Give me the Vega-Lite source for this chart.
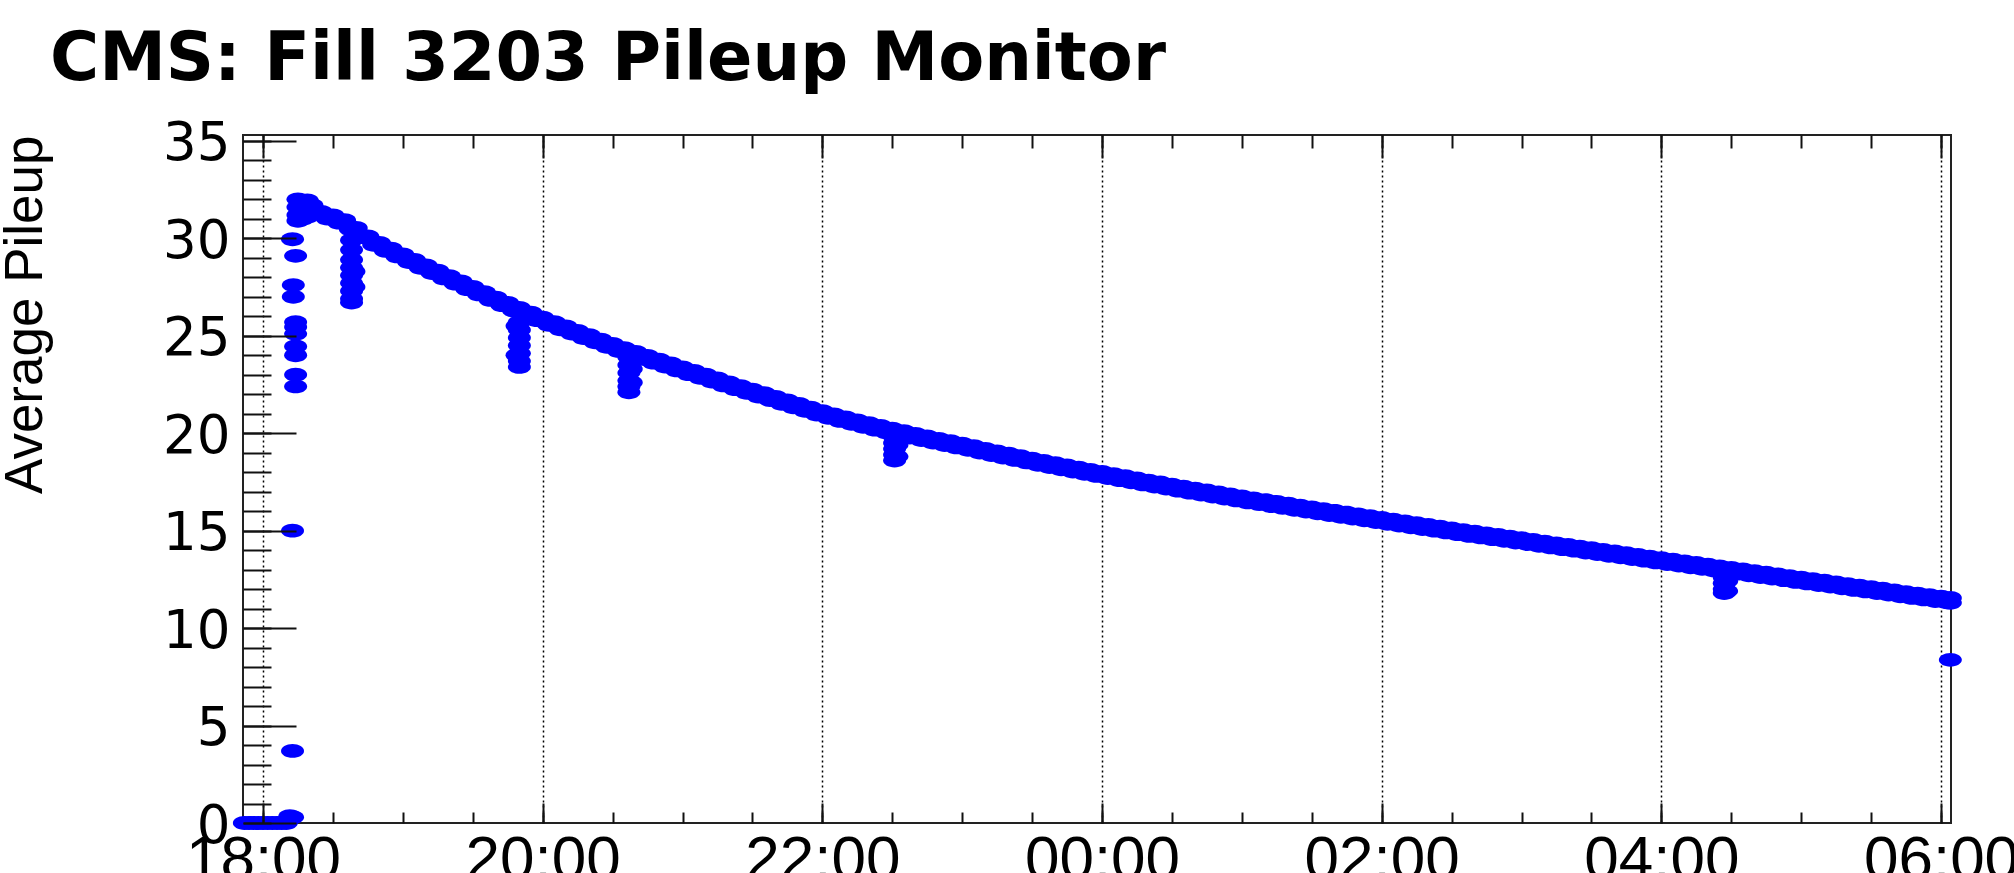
{
  "$schema": "https://vega.github.io/schema/vega-lite/v6.json",
  "width": 1708,
  "height": 688,
  "autosize": {"type": "none"},
  "padding": {"left": 243, "top": 135, "right": 63, "bottom": 50},
  "background": "white",
  "title": {
    "text": "CMS: Fill 3203 Pileup Monitor",
    "anchor": "start",
    "frame": "group",
    "font": "DejaVu Sans",
    "fontWeight": "bold",
    "fontSize": 67,
    "color": "black",
    "baseline": "alphabetic",
    "offset": 0,
    "dx": -193,
    "dy": 29
  },
  "config": {
    "view": {"stroke": "#222", "strokeWidth": 2},
    "axis": {"domain": false, "labelOverlap": false, "labelFlush": false, "labelBound": false}
  },
  "data": {
    "values": [
      {"time": "2012-10-24 17:52", "pileup": 0},
      {"time": "2012-10-24 17:54", "pileup": 0},
      {"time": "2012-10-24 17:56", "pileup": 0},
      {"time": "2012-10-24 17:58", "pileup": 0},
      {"time": "2012-10-24 18:00", "pileup": 0},
      {"time": "2012-10-24 18:02", "pileup": 0},
      {"time": "2012-10-24 18:04", "pileup": 0},
      {"time": "2012-10-24 18:06", "pileup": 0},
      {"time": "2012-10-24 18:08", "pileup": 0},
      {"time": "2012-10-24 18:10", "pileup": 0},
      {"time": "2012-10-24 18:11:30", "pileup": 0.35},
      {"time": "2012-10-24 18:12:40", "pileup": 0.3},
      {"time": "2012-10-24 18:12:40", "pileup": 3.7},
      {"time": "2012-10-24 18:12:40", "pileup": 15.0},
      {"time": "2012-10-24 18:14", "pileup": 22.4},
      {"time": "2012-10-24 18:14", "pileup": 23.0},
      {"time": "2012-10-24 18:14", "pileup": 24.0},
      {"time": "2012-10-24 18:14", "pileup": 24.45},
      {"time": "2012-10-24 18:14", "pileup": 25.1},
      {"time": "2012-10-24 18:14", "pileup": 25.45},
      {"time": "2012-10-24 18:14", "pileup": 25.7},
      {"time": "2012-10-24 18:13", "pileup": 27.0},
      {"time": "2012-10-24 18:13", "pileup": 27.6},
      {"time": "2012-10-24 18:14", "pileup": 29.1},
      {"time": "2012-10-24 18:12:40", "pileup": 29.95},
      {"time": "2012-10-24 18:15", "pileup": 32.0},
      {"time": "2012-10-24 18:15", "pileup": 31.6},
      {"time": "2012-10-24 18:15", "pileup": 31.2},
      {"time": "2012-10-24 18:15", "pileup": 30.9},
      {"time": "2012-10-24 18:17", "pileup": 31.9},
      {"time": "2012-10-24 18:17", "pileup": 31.4},
      {"time": "2012-10-24 18:17", "pileup": 31.0},
      {"time": "2012-10-24 18:19", "pileup": 31.95},
      {"time": "2012-10-24 18:19", "pileup": 31.5},
      {"time": "2012-10-24 18:19", "pileup": 31.1},
      {"time": "2012-10-24 18:21", "pileup": 31.7},
      {"time": "2012-10-24 18:21", "pileup": 31.3},
      {"time": "2012-10-24 18:38", "pileup": 29.9},
      {"time": "2012-10-24 18:38", "pileup": 29.4},
      {"time": "2012-10-24 18:38", "pileup": 28.9},
      {"time": "2012-10-24 18:38", "pileup": 28.5},
      {"time": "2012-10-24 18:38", "pileup": 28.1},
      {"time": "2012-10-24 18:38", "pileup": 27.7},
      {"time": "2012-10-24 18:38", "pileup": 27.3},
      {"time": "2012-10-24 18:38", "pileup": 26.9},
      {"time": "2012-10-24 18:38", "pileup": 26.7},
      {"time": "2012-10-24 18:39", "pileup": 28.3},
      {"time": "2012-10-24 18:39", "pileup": 27.5},
      {"time": "2012-10-24 19:49", "pileup": 25.5},
      {"time": "2012-10-24 19:49", "pileup": 24.0},
      {"time": "2012-10-24 19:50", "pileup": 25.7},
      {"time": "2012-10-24 19:50", "pileup": 25.3},
      {"time": "2012-10-24 19:50", "pileup": 24.9},
      {"time": "2012-10-24 19:50", "pileup": 24.5},
      {"time": "2012-10-24 19:50", "pileup": 24.1},
      {"time": "2012-10-24 19:50", "pileup": 23.7},
      {"time": "2012-10-24 19:50", "pileup": 23.4},
      {"time": "2012-10-24 20:37", "pileup": 23.9},
      {"time": "2012-10-24 20:37", "pileup": 23.5},
      {"time": "2012-10-24 20:37", "pileup": 23.1},
      {"time": "2012-10-24 20:37", "pileup": 22.7},
      {"time": "2012-10-24 20:37", "pileup": 22.4},
      {"time": "2012-10-24 20:37", "pileup": 22.1},
      {"time": "2012-10-24 20:38", "pileup": 23.3},
      {"time": "2012-10-24 20:38", "pileup": 22.6},
      {"time": "2012-10-24 22:31", "pileup": 19.8},
      {"time": "2012-10-24 22:31", "pileup": 19.5},
      {"time": "2012-10-24 22:31", "pileup": 19.2},
      {"time": "2012-10-24 22:31", "pileup": 18.9},
      {"time": "2012-10-24 22:31", "pileup": 18.6},
      {"time": "2012-10-24 22:32", "pileup": 19.4},
      {"time": "2012-10-24 22:32", "pileup": 18.8},
      {"time": "2012-10-25 04:27", "pileup": 12.6},
      {"time": "2012-10-25 04:27", "pileup": 12.3},
      {"time": "2012-10-25 04:27", "pileup": 12.0},
      {"time": "2012-10-25 04:27", "pileup": 11.8},
      {"time": "2012-10-25 04:28", "pileup": 12.4},
      {"time": "2012-10-25 04:28", "pileup": 11.9},
      {"time": "2012-10-25 06:04", "pileup": 11.55},
      {"time": "2012-10-25 06:04", "pileup": 11.3},
      {"time": "2012-10-25 06:04", "pileup": 8.37},
      {"time": "2012-10-24 18:25", "pileup": 31.36},
      {"time": "2012-10-24 18:27:30", "pileup": 31.01},
      {"time": "2012-10-24 18:30", "pileup": 31.18},
      {"time": "2012-10-24 18:32:30", "pileup": 30.8},
      {"time": "2012-10-24 18:35", "pileup": 30.93},
      {"time": "2012-10-24 18:37:30", "pileup": 30.47},
      {"time": "2012-10-24 18:40", "pileup": 30.53},
      {"time": "2012-10-24 18:42:30", "pileup": 30.06},
      {"time": "2012-10-24 18:45", "pileup": 30.1},
      {"time": "2012-10-24 18:47:30", "pileup": 29.67},
      {"time": "2012-10-24 18:50", "pileup": 29.76},
      {"time": "2012-10-24 18:52:30", "pileup": 29.36},
      {"time": "2012-10-24 18:55", "pileup": 29.47},
      {"time": "2012-10-24 18:57:30", "pileup": 29.07},
      {"time": "2012-10-24 19:00", "pileup": 29.18},
      {"time": "2012-10-24 19:02:30", "pileup": 28.78},
      {"time": "2012-10-24 19:05", "pileup": 28.89},
      {"time": "2012-10-24 19:07:30", "pileup": 28.49},
      {"time": "2012-10-24 19:10", "pileup": 28.61},
      {"time": "2012-10-24 19:12:30", "pileup": 28.22},
      {"time": "2012-10-24 19:15", "pileup": 28.34},
      {"time": "2012-10-24 19:17:30", "pileup": 27.94},
      {"time": "2012-10-24 19:20", "pileup": 28.06},
      {"time": "2012-10-24 19:22:30", "pileup": 27.67},
      {"time": "2012-10-24 19:25", "pileup": 27.79},
      {"time": "2012-10-24 19:27:30", "pileup": 27.39},
      {"time": "2012-10-24 19:30", "pileup": 27.51},
      {"time": "2012-10-24 19:32:30", "pileup": 27.12},
      {"time": "2012-10-24 19:35", "pileup": 27.24},
      {"time": "2012-10-24 19:37:30", "pileup": 26.84},
      {"time": "2012-10-24 19:40", "pileup": 26.96},
      {"time": "2012-10-24 19:42:30", "pileup": 26.57},
      {"time": "2012-10-24 19:45", "pileup": 26.69},
      {"time": "2012-10-24 19:47:30", "pileup": 26.3},
      {"time": "2012-10-24 19:50", "pileup": 26.43},
      {"time": "2012-10-24 19:52:30", "pileup": 26.05},
      {"time": "2012-10-24 19:55", "pileup": 26.18},
      {"time": "2012-10-24 19:57:30", "pileup": 25.8},
      {"time": "2012-10-24 20:00", "pileup": 25.93},
      {"time": "2012-10-24 20:02:30", "pileup": 25.56},
      {"time": "2012-10-24 20:05", "pileup": 25.7},
      {"time": "2012-10-24 20:07:30", "pileup": 25.33},
      {"time": "2012-10-24 20:10", "pileup": 25.48},
      {"time": "2012-10-24 20:12:30", "pileup": 25.11},
      {"time": "2012-10-24 20:15", "pileup": 25.25},
      {"time": "2012-10-24 20:17:30", "pileup": 24.88},
      {"time": "2012-10-24 20:20", "pileup": 25.03},
      {"time": "2012-10-24 20:22:30", "pileup": 24.66},
      {"time": "2012-10-24 20:25", "pileup": 24.8},
      {"time": "2012-10-24 20:27:30", "pileup": 24.43},
      {"time": "2012-10-24 20:30", "pileup": 24.58},
      {"time": "2012-10-24 20:32:30", "pileup": 24.22},
      {"time": "2012-10-24 20:35", "pileup": 24.37},
      {"time": "2012-10-24 20:37:30", "pileup": 24.01},
      {"time": "2012-10-24 20:40", "pileup": 24.17},
      {"time": "2012-10-24 20:42:30", "pileup": 23.81},
      {"time": "2012-10-24 20:45", "pileup": 23.97},
      {"time": "2012-10-24 20:47:30", "pileup": 23.62},
      {"time": "2012-10-24 20:50", "pileup": 23.78},
      {"time": "2012-10-24 20:52:30", "pileup": 23.42},
      {"time": "2012-10-24 20:55", "pileup": 23.58},
      {"time": "2012-10-24 20:57:30", "pileup": 23.22},
      {"time": "2012-10-24 21:00", "pileup": 23.38},
      {"time": "2012-10-24 21:02:30", "pileup": 23.03},
      {"time": "2012-10-24 21:05", "pileup": 23.19},
      {"time": "2012-10-24 21:07:30", "pileup": 22.84},
      {"time": "2012-10-24 21:10", "pileup": 23.0},
      {"time": "2012-10-24 21:12:30", "pileup": 22.65},
      {"time": "2012-10-24 21:15", "pileup": 22.81},
      {"time": "2012-10-24 21:17:30", "pileup": 22.45},
      {"time": "2012-10-24 21:20", "pileup": 22.61},
      {"time": "2012-10-24 21:22:30", "pileup": 22.26},
      {"time": "2012-10-24 21:25", "pileup": 22.42},
      {"time": "2012-10-24 21:27:30", "pileup": 22.07},
      {"time": "2012-10-24 21:30", "pileup": 22.23},
      {"time": "2012-10-24 21:32:30", "pileup": 21.88},
      {"time": "2012-10-24 21:35", "pileup": 22.05},
      {"time": "2012-10-24 21:37:30", "pileup": 21.7},
      {"time": "2012-10-24 21:40", "pileup": 21.86},
      {"time": "2012-10-24 21:42:30", "pileup": 21.51},
      {"time": "2012-10-24 21:45", "pileup": 21.68},
      {"time": "2012-10-24 21:47:30", "pileup": 21.33},
      {"time": "2012-10-24 21:50", "pileup": 21.5},
      {"time": "2012-10-24 21:52:30", "pileup": 21.15},
      {"time": "2012-10-24 21:55", "pileup": 21.31},
      {"time": "2012-10-24 21:57:30", "pileup": 20.96},
      {"time": "2012-10-24 22:00", "pileup": 21.13},
      {"time": "2012-10-24 22:02:30", "pileup": 20.79},
      {"time": "2012-10-24 22:05", "pileup": 20.97},
      {"time": "2012-10-24 22:07:30", "pileup": 20.63},
      {"time": "2012-10-24 22:10", "pileup": 20.81},
      {"time": "2012-10-24 22:12:30", "pileup": 20.48},
      {"time": "2012-10-24 22:15", "pileup": 20.66},
      {"time": "2012-10-24 22:17:30", "pileup": 20.33},
      {"time": "2012-10-24 22:20", "pileup": 20.51},
      {"time": "2012-10-24 22:22:30", "pileup": 20.18},
      {"time": "2012-10-24 22:25", "pileup": 20.37},
      {"time": "2012-10-24 22:27:30", "pileup": 20.04},
      {"time": "2012-10-24 22:30", "pileup": 20.23},
      {"time": "2012-10-24 22:32:30", "pileup": 19.91},
      {"time": "2012-10-24 22:35", "pileup": 20.1},
      {"time": "2012-10-24 22:37:30", "pileup": 19.78},
      {"time": "2012-10-24 22:40", "pileup": 19.97},
      {"time": "2012-10-24 22:42:30", "pileup": 19.65},
      {"time": "2012-10-24 22:45", "pileup": 19.84},
      {"time": "2012-10-24 22:47:30", "pileup": 19.52},
      {"time": "2012-10-24 22:50", "pileup": 19.71},
      {"time": "2012-10-24 22:52:30", "pileup": 19.39},
      {"time": "2012-10-24 22:55", "pileup": 19.59},
      {"time": "2012-10-24 22:57:30", "pileup": 19.27},
      {"time": "2012-10-24 23:00", "pileup": 19.47},
      {"time": "2012-10-24 23:02:30", "pileup": 19.15},
      {"time": "2012-10-24 23:05", "pileup": 19.34},
      {"time": "2012-10-24 23:07:30", "pileup": 19.01},
      {"time": "2012-10-24 23:10", "pileup": 19.2},
      {"time": "2012-10-24 23:12:30", "pileup": 18.88},
      {"time": "2012-10-24 23:15", "pileup": 19.07},
      {"time": "2012-10-24 23:17:30", "pileup": 18.75},
      {"time": "2012-10-24 23:20", "pileup": 18.95},
      {"time": "2012-10-24 23:22:30", "pileup": 18.63},
      {"time": "2012-10-24 23:25", "pileup": 18.82},
      {"time": "2012-10-24 23:27:30", "pileup": 18.5},
      {"time": "2012-10-24 23:30", "pileup": 18.7},
      {"time": "2012-10-24 23:32:30", "pileup": 18.38},
      {"time": "2012-10-24 23:35", "pileup": 18.58},
      {"time": "2012-10-24 23:37:30", "pileup": 18.26},
      {"time": "2012-10-24 23:40", "pileup": 18.46},
      {"time": "2012-10-24 23:42:30", "pileup": 18.15},
      {"time": "2012-10-24 23:45", "pileup": 18.35},
      {"time": "2012-10-24 23:47:30", "pileup": 18.03},
      {"time": "2012-10-24 23:50", "pileup": 18.23},
      {"time": "2012-10-24 23:52:30", "pileup": 17.92},
      {"time": "2012-10-24 23:55", "pileup": 18.12},
      {"time": "2012-10-24 23:57:30", "pileup": 17.81},
      {"time": "2012-10-25 00:00", "pileup": 18.01},
      {"time": "2012-10-25 00:02:30", "pileup": 17.7},
      {"time": "2012-10-25 00:05", "pileup": 17.9},
      {"time": "2012-10-25 00:07:30", "pileup": 17.59},
      {"time": "2012-10-25 00:10", "pileup": 17.79},
      {"time": "2012-10-25 00:12:30", "pileup": 17.48},
      {"time": "2012-10-25 00:15", "pileup": 17.68},
      {"time": "2012-10-25 00:17:30", "pileup": 17.37},
      {"time": "2012-10-25 00:20", "pileup": 17.57},
      {"time": "2012-10-25 00:22:30", "pileup": 17.26},
      {"time": "2012-10-25 00:25", "pileup": 17.47},
      {"time": "2012-10-25 00:27:30", "pileup": 17.16},
      {"time": "2012-10-25 00:30", "pileup": 17.36},
      {"time": "2012-10-25 00:32:30", "pileup": 17.05},
      {"time": "2012-10-25 00:35", "pileup": 17.26},
      {"time": "2012-10-25 00:37:30", "pileup": 16.95},
      {"time": "2012-10-25 00:40", "pileup": 17.16},
      {"time": "2012-10-25 00:42:30", "pileup": 16.85},
      {"time": "2012-10-25 00:45", "pileup": 17.06},
      {"time": "2012-10-25 00:47:30", "pileup": 16.75},
      {"time": "2012-10-25 00:50", "pileup": 16.96},
      {"time": "2012-10-25 00:52:30", "pileup": 16.65},
      {"time": "2012-10-25 00:55", "pileup": 16.86},
      {"time": "2012-10-25 00:57:30", "pileup": 16.55},
      {"time": "2012-10-25 01:00", "pileup": 16.76},
      {"time": "2012-10-25 01:02:30", "pileup": 16.45},
      {"time": "2012-10-25 01:05", "pileup": 16.66},
      {"time": "2012-10-25 01:07:30", "pileup": 16.36},
      {"time": "2012-10-25 01:10", "pileup": 16.57},
      {"time": "2012-10-25 01:12:30", "pileup": 16.26},
      {"time": "2012-10-25 01:15", "pileup": 16.47},
      {"time": "2012-10-25 01:17:30", "pileup": 16.17},
      {"time": "2012-10-25 01:20", "pileup": 16.38},
      {"time": "2012-10-25 01:22:30", "pileup": 16.07},
      {"time": "2012-10-25 01:25", "pileup": 16.28},
      {"time": "2012-10-25 01:27:30", "pileup": 15.98},
      {"time": "2012-10-25 01:30", "pileup": 16.19},
      {"time": "2012-10-25 01:32:30", "pileup": 15.89},
      {"time": "2012-10-25 01:35", "pileup": 16.1},
      {"time": "2012-10-25 01:37:30", "pileup": 15.8},
      {"time": "2012-10-25 01:40", "pileup": 16.01},
      {"time": "2012-10-25 01:42:30", "pileup": 15.71},
      {"time": "2012-10-25 01:45", "pileup": 15.92},
      {"time": "2012-10-25 01:47:30", "pileup": 15.62},
      {"time": "2012-10-25 01:50", "pileup": 15.83},
      {"time": "2012-10-25 01:52:30", "pileup": 15.53},
      {"time": "2012-10-25 01:55", "pileup": 15.74},
      {"time": "2012-10-25 01:57:30", "pileup": 15.44},
      {"time": "2012-10-25 02:00", "pileup": 15.65},
      {"time": "2012-10-25 02:02:30", "pileup": 15.35},
      {"time": "2012-10-25 02:05", "pileup": 15.56},
      {"time": "2012-10-25 02:07:30", "pileup": 15.26},
      {"time": "2012-10-25 02:10", "pileup": 15.47},
      {"time": "2012-10-25 02:12:30", "pileup": 15.17},
      {"time": "2012-10-25 02:15", "pileup": 15.38},
      {"time": "2012-10-25 02:17:30", "pileup": 15.08},
      {"time": "2012-10-25 02:20", "pileup": 15.3},
      {"time": "2012-10-25 02:22:30", "pileup": 15.0},
      {"time": "2012-10-25 02:25", "pileup": 15.21},
      {"time": "2012-10-25 02:27:30", "pileup": 14.91},
      {"time": "2012-10-25 02:30", "pileup": 15.12},
      {"time": "2012-10-25 02:32:30", "pileup": 14.82},
      {"time": "2012-10-25 02:35", "pileup": 15.03},
      {"time": "2012-10-25 02:37:30", "pileup": 14.73},
      {"time": "2012-10-25 02:40", "pileup": 14.95},
      {"time": "2012-10-25 02:42:30", "pileup": 14.65},
      {"time": "2012-10-25 02:45", "pileup": 14.86},
      {"time": "2012-10-25 02:47:30", "pileup": 14.56},
      {"time": "2012-10-25 02:50", "pileup": 14.78},
      {"time": "2012-10-25 02:52:30", "pileup": 14.48},
      {"time": "2012-10-25 02:55", "pileup": 14.69},
      {"time": "2012-10-25 02:57:30", "pileup": 14.39},
      {"time": "2012-10-25 03:00", "pileup": 14.61},
      {"time": "2012-10-25 03:02:30", "pileup": 14.31},
      {"time": "2012-10-25 03:05", "pileup": 14.52},
      {"time": "2012-10-25 03:07:30", "pileup": 14.22},
      {"time": "2012-10-25 03:10", "pileup": 14.44},
      {"time": "2012-10-25 03:12:30", "pileup": 14.14},
      {"time": "2012-10-25 03:15", "pileup": 14.35},
      {"time": "2012-10-25 03:17:30", "pileup": 14.05},
      {"time": "2012-10-25 03:20", "pileup": 14.27},
      {"time": "2012-10-25 03:22:30", "pileup": 13.97},
      {"time": "2012-10-25 03:25", "pileup": 14.18},
      {"time": "2012-10-25 03:27:30", "pileup": 13.88},
      {"time": "2012-10-25 03:30", "pileup": 14.1},
      {"time": "2012-10-25 03:32:30", "pileup": 13.8},
      {"time": "2012-10-25 03:35", "pileup": 14.01},
      {"time": "2012-10-25 03:37:30", "pileup": 13.71},
      {"time": "2012-10-25 03:40", "pileup": 13.93},
      {"time": "2012-10-25 03:42:30", "pileup": 13.63},
      {"time": "2012-10-25 03:45", "pileup": 13.84},
      {"time": "2012-10-25 03:47:30", "pileup": 13.54},
      {"time": "2012-10-25 03:50", "pileup": 13.76},
      {"time": "2012-10-25 03:52:30", "pileup": 13.46},
      {"time": "2012-10-25 03:55", "pileup": 13.67},
      {"time": "2012-10-25 03:57:30", "pileup": 13.37},
      {"time": "2012-10-25 04:00", "pileup": 13.59},
      {"time": "2012-10-25 04:02:30", "pileup": 13.29},
      {"time": "2012-10-25 04:05", "pileup": 13.51},
      {"time": "2012-10-25 04:07:30", "pileup": 13.21},
      {"time": "2012-10-25 04:10", "pileup": 13.42},
      {"time": "2012-10-25 04:12:30", "pileup": 13.12},
      {"time": "2012-10-25 04:15", "pileup": 13.34},
      {"time": "2012-10-25 04:17:30", "pileup": 13.04},
      {"time": "2012-10-25 04:20", "pileup": 13.26},
      {"time": "2012-10-25 04:22:30", "pileup": 12.96},
      {"time": "2012-10-25 04:25", "pileup": 13.17},
      {"time": "2012-10-25 04:27:30", "pileup": 12.87},
      {"time": "2012-10-25 04:30", "pileup": 13.09},
      {"time": "2012-10-25 04:32:30", "pileup": 12.79},
      {"time": "2012-10-25 04:35", "pileup": 13.01},
      {"time": "2012-10-25 04:37:30", "pileup": 12.71},
      {"time": "2012-10-25 04:40", "pileup": 12.92},
      {"time": "2012-10-25 04:42:30", "pileup": 12.62},
      {"time": "2012-10-25 04:45", "pileup": 12.84},
      {"time": "2012-10-25 04:47:30", "pileup": 12.54},
      {"time": "2012-10-25 04:50", "pileup": 12.76},
      {"time": "2012-10-25 04:52:30", "pileup": 12.46},
      {"time": "2012-10-25 04:55", "pileup": 12.67},
      {"time": "2012-10-25 04:57:30", "pileup": 12.37},
      {"time": "2012-10-25 05:00", "pileup": 12.59},
      {"time": "2012-10-25 05:02:30", "pileup": 12.29},
      {"time": "2012-10-25 05:05", "pileup": 12.51},
      {"time": "2012-10-25 05:07:30", "pileup": 12.21},
      {"time": "2012-10-25 05:10", "pileup": 12.43},
      {"time": "2012-10-25 05:12:30", "pileup": 12.13},
      {"time": "2012-10-25 05:15", "pileup": 12.34},
      {"time": "2012-10-25 05:17:30", "pileup": 12.04},
      {"time": "2012-10-25 05:20", "pileup": 12.26},
      {"time": "2012-10-25 05:22:30", "pileup": 11.96},
      {"time": "2012-10-25 05:25", "pileup": 12.18},
      {"time": "2012-10-25 05:27:30", "pileup": 11.88},
      {"time": "2012-10-25 05:30", "pileup": 12.1},
      {"time": "2012-10-25 05:32:30", "pileup": 11.8},
      {"time": "2012-10-25 05:35", "pileup": 12.02},
      {"time": "2012-10-25 05:37:30", "pileup": 11.72},
      {"time": "2012-10-25 05:40", "pileup": 11.93},
      {"time": "2012-10-25 05:42:30", "pileup": 11.63},
      {"time": "2012-10-25 05:45", "pileup": 11.85},
      {"time": "2012-10-25 05:47:30", "pileup": 11.55},
      {"time": "2012-10-25 05:50", "pileup": 11.77},
      {"time": "2012-10-25 05:52:30", "pileup": 11.47},
      {"time": "2012-10-25 05:55", "pileup": 11.69},
      {"time": "2012-10-25 05:57:30", "pileup": 11.39},
      {"time": "2012-10-25 06:00", "pileup": 11.61},
      {"time": "2012-10-25 06:02:30", "pileup": 11.32}
    ]
  },
  "layer": [
    {
      "mark": {
        "type": "point",
        "filled": true,
        "shape": "M-1,0A1,0.6 0 1,0 1,0A1,0.6 0 1,0 -1,0Z",
        "size": 529,
        "color": "#0000ff",
        "opacity": 1,
        "strokeWidth": 0
      },
      "encoding": {
        "x": {
          "field": "time",
          "type": "temporal",
          "scale": {"domain": [{"year": 2012, "month": 10, "date": 24, "hours": 17, "minutes": 51, "seconds": 25}, {"year": 2012, "month": 10, "date": 25, "hours": 6, "minutes": 4, "seconds": 17}]},
          "axis": {
            "orient": "bottom",
            "title": null,
            "values": [
              {"year": 2012, "month": 10, "date": 24, "hours": 18},
              {"year": 2012, "month": 10, "date": 24, "hours": 20},
              {"year": 2012, "month": 10, "date": 24, "hours": 22},
              {"year": 2012, "month": 10, "date": 25, "hours": 0},
              {"year": 2012, "month": 10, "date": 25, "hours": 2},
              {"year": 2012, "month": 10, "date": 25, "hours": 4},
              {"year": 2012, "month": 10, "date": 25, "hours": 6}
            ],
            "format": "%H:%M",
            "ticks": false,
            "labelPadding": 6,
            "labelFont": "Liberation Sans",
            "labelFontSize": 62,
            "labelColor": "black",
            "grid": true,
            "gridDash": [2, 3],
            "gridColor": "black",
            "gridWidth": 1.5,
            "gridOpacity": 1
          }
        },
        "y": {
          "field": "pileup",
          "type": "quantitative",
          "scale": {"domain": [0, 35.3], "nice": false, "zero": false},
          "axis": {
            "orient": "left",
            "values": [0, 5, 10, 15, 20, 25, 30, 35],
            "ticks": false,
            "grid": false,
            "labelPadding": 13,
            "labelOffset": 3,
            "labelFont": "DejaVu Sans",
            "labelFontSize": 53,
            "labelColor": "black",
            "title": "Average Pileup",
            "titleFont": "Liberation Sans",
            "titleFontSize": 53,
            "titleFontWeight": "normal",
            "titleColor": "black",
            "titleAngle": -90,
            "titleAlign": "right",
            "titleBaseline": "alphabetic",
            "titleX": -202,
            "titleY": 0
          }
        }
      }
    },
    {
      "mark": {"type": "point", "opacity": 0},
      "encoding": {
        "x": {
          "field": "time",
          "type": "temporal",
          "scale": {"domain": [{"year": 2012, "month": 10, "date": 24, "hours": 17, "minutes": 51, "seconds": 25}, {"year": 2012, "month": 10, "date": 25, "hours": 6, "minutes": 4, "seconds": 17}]},
          "axis": {
            "orient": "bottom",
            "title": null,
            "labels": false,
            "grid": false,
            "zindex": 1,
            "tickSize": -20,
            "tickWidth": 2,
            "tickColor": "#111",
            "values": [
              {"year": 2012, "month": 10, "date": 24, "hours": 18},
              {"year": 2012, "month": 10, "date": 24, "hours": 20},
              {"year": 2012, "month": 10, "date": 24, "hours": 22},
              {"year": 2012, "month": 10, "date": 25, "hours": 0},
              {"year": 2012, "month": 10, "date": 25, "hours": 2},
              {"year": 2012, "month": 10, "date": 25, "hours": 4},
              {"year": 2012, "month": 10, "date": 25, "hours": 6}
            ]
          }
        },
        "y": {
          "field": "pileup",
          "type": "quantitative",
          "scale": {"domain": [0, 35.3], "nice": false, "zero": false},
          "axis": {
            "orient": "left",
            "title": null,
            "labels": false,
            "grid": false,
            "zindex": 1,
            "tickSize": -53,
            "tickWidth": 2,
            "tickColor": "#111",
            "values": [0, 5, 10, 15, 20, 25, 30, 35]
          }
        }
      }
    },
    {
      "mark": {"type": "point", "opacity": 0},
      "encoding": {
        "x": {
          "field": "time",
          "type": "temporal",
          "scale": {"domain": [{"year": 2012, "month": 10, "date": 24, "hours": 17, "minutes": 51, "seconds": 25}, {"year": 2012, "month": 10, "date": 25, "hours": 6, "minutes": 4, "seconds": 17}]},
          "axis": {
            "orient": "bottom",
            "title": null,
            "labels": false,
            "grid": false,
            "zindex": 1,
            "tickSize": -11,
            "tickWidth": 2,
            "tickColor": "#111",
            "values": [
              {"year": 2012, "month": 10, "date": 24, "hours": 18, "minutes": 0},
              {"year": 2012, "month": 10, "date": 24, "hours": 18, "minutes": 30},
              {"year": 2012, "month": 10, "date": 24, "hours": 19, "minutes": 0},
              {"year": 2012, "month": 10, "date": 24, "hours": 19, "minutes": 30},
              {"year": 2012, "month": 10, "date": 24, "hours": 20, "minutes": 0},
              {"year": 2012, "month": 10, "date": 24, "hours": 20, "minutes": 30},
              {"year": 2012, "month": 10, "date": 24, "hours": 21, "minutes": 0},
              {"year": 2012, "month": 10, "date": 24, "hours": 21, "minutes": 30},
              {"year": 2012, "month": 10, "date": 24, "hours": 22, "minutes": 0},
              {"year": 2012, "month": 10, "date": 24, "hours": 22, "minutes": 30},
              {"year": 2012, "month": 10, "date": 24, "hours": 23, "minutes": 0},
              {"year": 2012, "month": 10, "date": 24, "hours": 23, "minutes": 30},
              {"year": 2012, "month": 10, "date": 25, "hours": 0, "minutes": 0},
              {"year": 2012, "month": 10, "date": 25, "hours": 0, "minutes": 30},
              {"year": 2012, "month": 10, "date": 25, "hours": 1, "minutes": 0},
              {"year": 2012, "month": 10, "date": 25, "hours": 1, "minutes": 30},
              {"year": 2012, "month": 10, "date": 25, "hours": 2, "minutes": 0},
              {"year": 2012, "month": 10, "date": 25, "hours": 2, "minutes": 30},
              {"year": 2012, "month": 10, "date": 25, "hours": 3, "minutes": 0},
              {"year": 2012, "month": 10, "date": 25, "hours": 3, "minutes": 30},
              {"year": 2012, "month": 10, "date": 25, "hours": 4, "minutes": 0},
              {"year": 2012, "month": 10, "date": 25, "hours": 4, "minutes": 30},
              {"year": 2012, "month": 10, "date": 25, "hours": 5, "minutes": 0},
              {"year": 2012, "month": 10, "date": 25, "hours": 5, "minutes": 30},
              {"year": 2012, "month": 10, "date": 25, "hours": 6, "minutes": 0}
            ]
          }
        },
        "y": {
          "field": "pileup",
          "type": "quantitative",
          "scale": {"domain": [0, 35.3], "nice": false, "zero": false},
          "axis": {
            "orient": "left",
            "title": null,
            "labels": false,
            "grid": false,
            "zindex": 1,
            "tickSize": -28,
            "tickWidth": 2,
            "tickColor": "#111",
            "values": [0, 1, 2, 3, 4, 5, 6, 7, 8, 9, 10, 11, 12, 13, 14, 15, 16, 17, 18, 19, 20, 21, 22, 23, 24, 25, 26, 27, 28, 29, 30, 31, 32, 33, 34, 35]
          }
        }
      }
    },
    {
      "mark": {"type": "point", "opacity": 0},
      "encoding": {
        "x": {
          "field": "time",
          "type": "temporal",
          "scale": {"domain": [{"year": 2012, "month": 10, "date": 24, "hours": 17, "minutes": 51, "seconds": 25}, {"year": 2012, "month": 10, "date": 25, "hours": 6, "minutes": 4, "seconds": 17}]},
          "axis": {
            "orient": "top",
            "title": null,
            "labels": false,
            "grid": false,
            "zindex": 1,
            "tickSize": -23,
            "tickWidth": 2,
            "tickColor": "#111",
            "values": [
              {"year": 2012, "month": 10, "date": 24, "hours": 18},
              {"year": 2012, "month": 10, "date": 24, "hours": 20},
              {"year": 2012, "month": 10, "date": 24, "hours": 22},
              {"year": 2012, "month": 10, "date": 25, "hours": 0},
              {"year": 2012, "month": 10, "date": 25, "hours": 2},
              {"year": 2012, "month": 10, "date": 25, "hours": 4},
              {"year": 2012, "month": 10, "date": 25, "hours": 6}
            ]
          }
        },
        "y": {
          "field": "pileup",
          "type": "quantitative",
          "scale": {"domain": [0, 35.3], "nice": false, "zero": false},
          "axis": null
        }
      }
    },
    {
      "mark": {"type": "point", "opacity": 0},
      "encoding": {
        "x": {
          "field": "time",
          "type": "temporal",
          "scale": {"domain": [{"year": 2012, "month": 10, "date": 24, "hours": 17, "minutes": 51, "seconds": 25}, {"year": 2012, "month": 10, "date": 25, "hours": 6, "minutes": 4, "seconds": 17}]},
          "axis": {
            "orient": "top",
            "title": null,
            "labels": false,
            "grid": false,
            "zindex": 1,
            "tickSize": -13,
            "tickWidth": 2,
            "tickColor": "#111",
            "values": [
              {"year": 2012, "month": 10, "date": 24, "hours": 18, "minutes": 0},
              {"year": 2012, "month": 10, "date": 24, "hours": 18, "minutes": 30},
              {"year": 2012, "month": 10, "date": 24, "hours": 19, "minutes": 0},
              {"year": 2012, "month": 10, "date": 24, "hours": 19, "minutes": 30},
              {"year": 2012, "month": 10, "date": 24, "hours": 20, "minutes": 0},
              {"year": 2012, "month": 10, "date": 24, "hours": 20, "minutes": 30},
              {"year": 2012, "month": 10, "date": 24, "hours": 21, "minutes": 0},
              {"year": 2012, "month": 10, "date": 24, "hours": 21, "minutes": 30},
              {"year": 2012, "month": 10, "date": 24, "hours": 22, "minutes": 0},
              {"year": 2012, "month": 10, "date": 24, "hours": 22, "minutes": 30},
              {"year": 2012, "month": 10, "date": 24, "hours": 23, "minutes": 0},
              {"year": 2012, "month": 10, "date": 24, "hours": 23, "minutes": 30},
              {"year": 2012, "month": 10, "date": 25, "hours": 0, "minutes": 0},
              {"year": 2012, "month": 10, "date": 25, "hours": 0, "minutes": 30},
              {"year": 2012, "month": 10, "date": 25, "hours": 1, "minutes": 0},
              {"year": 2012, "month": 10, "date": 25, "hours": 1, "minutes": 30},
              {"year": 2012, "month": 10, "date": 25, "hours": 2, "minutes": 0},
              {"year": 2012, "month": 10, "date": 25, "hours": 2, "minutes": 30},
              {"year": 2012, "month": 10, "date": 25, "hours": 3, "minutes": 0},
              {"year": 2012, "month": 10, "date": 25, "hours": 3, "minutes": 30},
              {"year": 2012, "month": 10, "date": 25, "hours": 4, "minutes": 0},
              {"year": 2012, "month": 10, "date": 25, "hours": 4, "minutes": 30},
              {"year": 2012, "month": 10, "date": 25, "hours": 5, "minutes": 0},
              {"year": 2012, "month": 10, "date": 25, "hours": 5, "minutes": 30},
              {"year": 2012, "month": 10, "date": 25, "hours": 6, "minutes": 0}
            ]
          }
        },
        "y": {
          "field": "pileup",
          "type": "quantitative",
          "scale": {"domain": [0, 35.3], "nice": false, "zero": false},
          "axis": null
        }
      }
    }
  ],
  "resolve": {"axis": {"x": "independent", "y": "independent"}}
}
